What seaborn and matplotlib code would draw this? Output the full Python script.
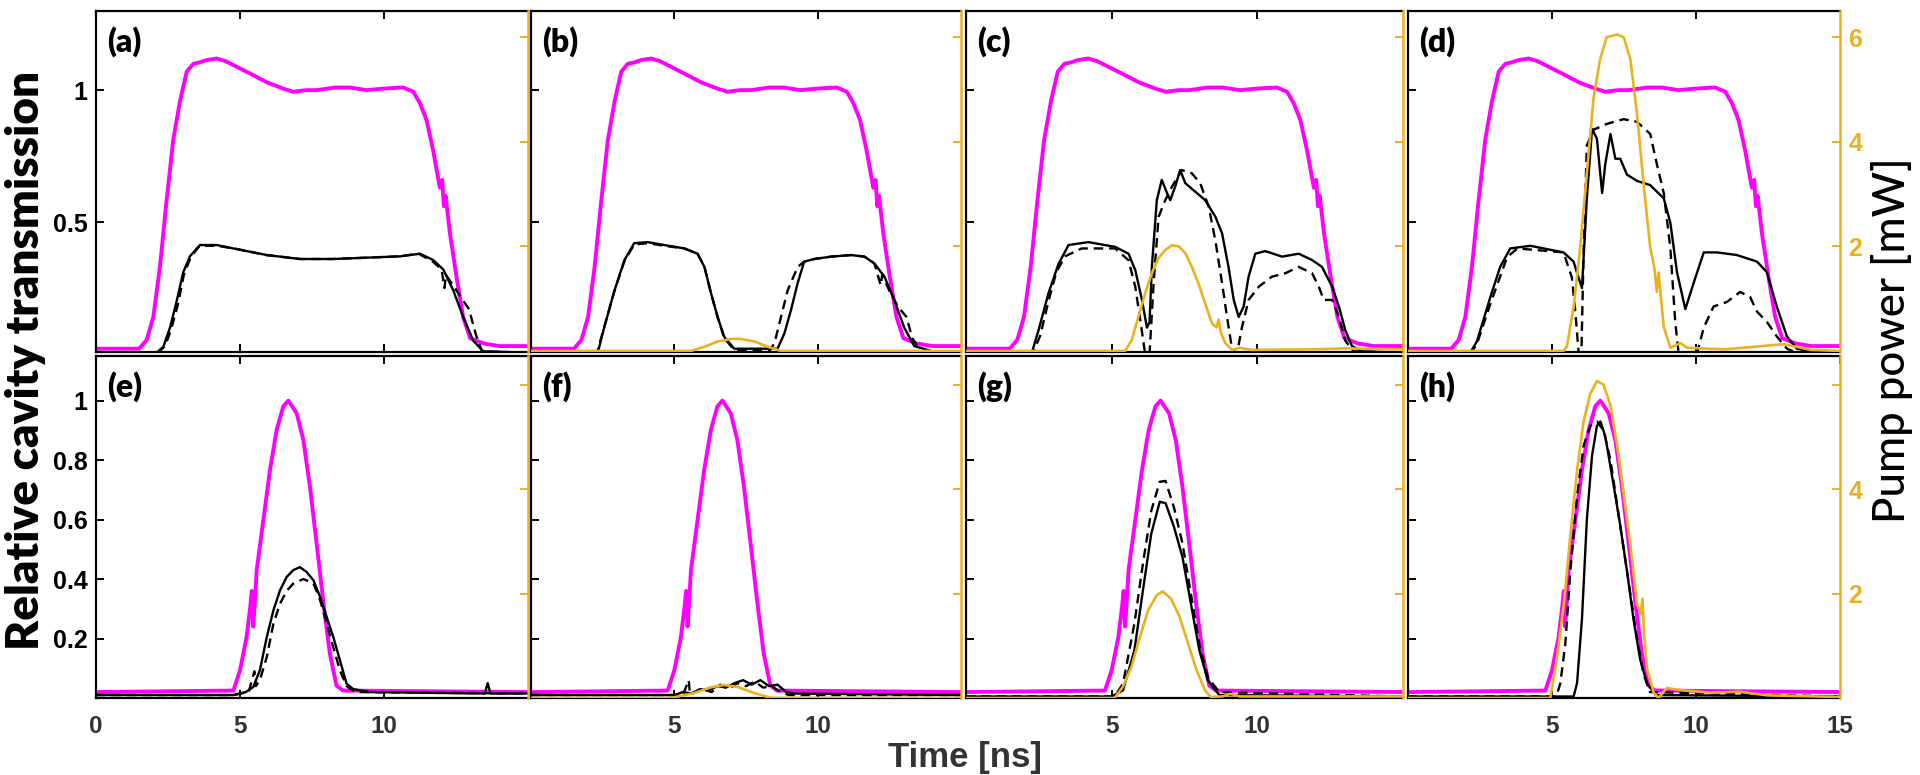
import matplotlib
matplotlib.use("Agg")
import matplotlib.pyplot as plt
import seaborn as sns

# ---------------- data ----------------
# input pulse (magenta), same trace in panels a-d
mag_top_t = [0, 1.5, 1.76, 1.99, 2.22, 2.45, 2.68, 2.92, 3.15, 3.38, 3.6, 3.84, 4.19, 4.5,
             4.77, 5.35, 5.93, 6.5, 6.85, 7.3, 7.66, 8.3, 8.82, 9.4, 9.98, 10.67, 11.02, 11.25,
             11.48, 11.71, 11.94, 12.02, 12.08, 12.14, 12.29, 12.52, 12.75, 12.99, 13.45, 14.0, 15.0]
mag_top_v = [0.02, 0.02, 0.053, 0.14, 0.33, 0.58, 0.81, 0.96, 1.07, 1.10, 1.105, 1.114, 1.12, 1.11,
             1.095, 1.063, 1.03, 1.006, 0.994, 1.0, 1.0, 1.01, 1.01, 1.0, 1.006, 1.01, 0.994, 0.95,
             0.886, 0.77, 0.63, 0.66, 0.56, 0.6, 0.457, 0.29, 0.14, 0.06, 0.04, 0.03, 0.03]

# input pulse (magenta), same trace in panels e-h
mag_bot_t = [0, 4.77, 5.0, 5.23, 5.36, 5.41, 5.46, 5.52, 5.58, 5.81, 6.04, 6.27, 6.5, 6.68, 6.97,
             7.2, 7.43, 7.66, 7.9, 8.12, 8.35, 8.58, 15]
mag_bot_v = [0.02, 0.025, 0.093, 0.205, 0.31, 0.36, 0.24, 0.33, 0.43, 0.598, 0.766, 0.90, 0.98,
             1.0, 0.957, 0.867, 0.71, 0.52, 0.317, 0.149, 0.042, 0.025, 0.02]

# (a)
a_sol_t = [0, 2.11, 2.34, 2.57, 2.80, 3.03, 3.26, 3.61, 4.19, 4.77, 5.93, 7.08, 8.24, 9.39, 10.55,
           11.25, 11.71, 12.06, 12.41, 12.75, 13.1, 13.45, 15]
a_sol_v = [0.005, 0.005, 0.028, 0.10, 0.20, 0.31, 0.37, 0.413, 0.413, 0.40, 0.375, 0.36, 0.36,
           0.365, 0.37, 0.38, 0.356, 0.32, 0.24, 0.14, 0.05, 0.01, 0.005]
a_dash_t = [0, 2.15, 2.4, 2.6, 2.85, 3.05, 3.3, 3.6, 4.2, 4.8, 5.9, 7.1, 8.2, 9.4, 10.5, 11.2,
            11.7, 12.0, 12.1, 12.15, 12.4, 12.7, 12.95, 13.2, 13.4, 15]
a_dash_v = [0.005, 0.005, 0.03, 0.09, 0.19, 0.30, 0.37, 0.41, 0.41, 0.40, 0.375, 0.36, 0.36,
            0.365, 0.37, 0.38, 0.35, 0.32, 0.25, 0.30, 0.26, 0.21, 0.17, 0.07, 0.01, 0.005]

# (b)
b_sol_t = [0, 2.33, 2.56, 2.91, 3.26, 3.6, 4.07, 4.65, 5.35, 5.81, 6.05, 6.28, 6.51, 6.74, 7.09,
           8.6, 8.84, 9.07, 9.3, 9.53, 9.88, 10.47, 11.16, 11.63, 11.98, 12.33, 12.67, 13.02,
           13.37, 14, 15]
b_sol_v = [0.005, 0.005, 0.103, 0.24, 0.356, 0.42, 0.424, 0.413, 0.40, 0.38, 0.33, 0.23, 0.14,
           0.065, 0.02, 0.02, 0.078, 0.167, 0.268, 0.35, 0.36, 0.369, 0.375, 0.369, 0.343, 0.293,
           0.205, 0.10, 0.03, 0.01, 0.005]
b_dash_t = [0, 2.3, 2.55, 2.9, 3.25, 3.6, 4.07, 4.65, 5.35, 5.81, 6.05, 6.28, 6.51, 6.74, 7.09,
            8.3, 8.49, 8.72, 8.95, 9.3, 9.53, 9.88, 10.47, 11.16, 11.63, 11.98, 12.2, 12.25,
            12.5, 12.8, 13.1, 13.3, 13.6, 15]
b_dash_v = [0.005, 0.005, 0.10, 0.235, 0.35, 0.415, 0.42, 0.41, 0.40, 0.38, 0.33, 0.23, 0.14,
            0.06, 0.015, 0.01, 0.04, 0.14, 0.24, 0.33, 0.35, 0.36, 0.369, 0.375, 0.369, 0.343,
            0.26, 0.30, 0.24, 0.18, 0.14, 0.06, 0.01, 0.005]
b_pump_t = [0, 5.58, 6.05, 6.51, 6.98, 7.33, 7.8, 8.26, 8.72, 15]
b_pump_p = [0, 0, 0.08, 0.18, 0.23, 0.23, 0.18, 0.08, 0, 0]

# (c)
c_sol_t = [0, 2.26, 2.49, 2.83, 3.17, 3.52, 4.2, 5.12, 5.58, 5.81, 6.04, 6.21, 6.3, 6.38, 6.55,
           6.72, 6.9, 7.01, 7.18, 7.35, 7.53, 7.87, 8.21, 8.56, 8.79, 9.01, 9.19, 9.36, 9.53,
           9.7, 9.93, 10.27, 10.85, 11.42, 11.88, 12.22, 12.57, 12.8, 13.02, 13.25, 13.6, 15]
c_sol_v = [0.005, 0.005, 0.09, 0.23, 0.34, 0.413, 0.424, 0.406, 0.38, 0.318, 0.205, 0.10, 0.12,
           0.33, 0.583, 0.66, 0.61, 0.583, 0.634, 0.697, 0.647, 0.615, 0.583, 0.52, 0.457, 0.33,
           0.205, 0.14, 0.18, 0.293, 0.38, 0.39, 0.369, 0.38, 0.356, 0.33, 0.255, 0.18, 0.09,
           0.03, 0.01, 0.005]
c_dash_t = [0, 2.3, 2.55, 2.83, 3.1, 3.4, 3.97, 5.12, 5.58, 5.81, 5.98, 6.15, 6.3, 6.44, 6.61,
            6.84, 7.07, 7.41, 7.75, 8.04, 8.33, 8.56, 8.79, 8.96, 9.13, 9.3, 9.47, 9.7, 10.05,
            10.5, 10.96, 11.42, 11.88, 12.11, 12.28, 12.57, 12.8, 13.02, 13.3, 15]
c_dash_v = [0.005, 0.005, 0.07, 0.20, 0.31, 0.37, 0.40, 0.40, 0.355, 0.255, 0.13, 0.0, 0.0,
            0.268, 0.52, 0.583, 0.634, 0.697, 0.685, 0.647, 0.558, 0.43, 0.268, 0.14, 0.02, 0.0,
            0.10, 0.205, 0.255, 0.293, 0.306, 0.33, 0.306, 0.255, 0.205, 0.205, 0.14, 0.05, 0.01,
            0.005]
c_pump_t = [0, 5.46, 5.69, 5.92, 6.15, 6.38, 6.61, 6.84, 7.07, 7.3, 7.53, 7.75, 7.98, 8.21, 8.44,
            8.6, 8.67, 8.75, 8.9, 9.13, 9.4, 9.8, 12, 13, 15]
c_pump_p = [0, 0, 0.21, 0.66, 1.1, 1.49, 1.78, 1.93, 2.02, 2.0, 1.87, 1.61, 1.29, 0.91, 0.53,
            0.45, 0.6, 0.35, 0.15, 0.02, 0.06, 0.02, 0.03, 0.05, 0.03]

# (d)
d_sol_t = [0, 2.16, 2.39, 2.86, 3.2, 3.55, 4.25, 5.4, 5.75, 5.92, 6.04, 6.21, 6.39, 6.56, 6.74,
           6.85, 7.03, 7.2, 7.37, 7.6, 7.95, 8.41, 8.88, 9.11, 9.34, 9.63, 9.92, 10.27, 10.73,
           11.42, 12.12, 12.46, 12.81, 13.16, 13.5, 14, 15]
d_sol_v = [0.005, 0.005, 0.047, 0.216, 0.33, 0.40, 0.41, 0.385, 0.35, 0.29, 0.25, 0.59, 0.853,
           0.816, 0.61, 0.72, 0.834, 0.74, 0.74, 0.68, 0.656, 0.64, 0.59, 0.497, 0.31, 0.17,
           0.27, 0.385, 0.385, 0.375, 0.35, 0.31, 0.178, 0.066, 0.02, 0.01, 0.005]
d_dash_t = [0, 2.2, 2.4, 2.86, 3.44, 3.8, 5.4, 5.69, 5.81, 5.92, 6.02, 6.1, 6.21, 6.44, 6.9,
            7.49, 7.95, 8.41, 8.64, 8.88, 9.11, 9.28, 9.4, 10.03, 10.27, 10.61, 11.07, 11.53,
            11.88, 12.12, 12.46, 12.81, 13.16, 13.5, 15]
d_dash_v = [0.005, 0.005, 0.04, 0.19, 0.367, 0.40, 0.385, 0.29, 0.16, 0.01, 0.0, 0.4, 0.79,
            0.85, 0.872, 0.89, 0.88, 0.834, 0.72, 0.61, 0.40, 0.12, 0.0, 0.0, 0.10, 0.18, 0.197,
            0.235, 0.216, 0.16, 0.122, 0.066, 0.02, 0.005, 0.005]
d_pump_t = [0, 5.4, 5.52, 5.75, 5.98, 6.21, 6.44, 6.67, 6.9, 7.26, 7.49, 7.72, 7.95, 8.18, 8.41,
            8.55, 8.64, 8.7, 8.88, 9.11, 9.46, 9.7, 11, 13.04, 14, 15]
d_pump_p = [0, 0, 0.09, 0.84, 1.98, 3.4, 4.82, 5.58, 6.0, 6.05, 6.0, 5.58, 4.54, 3.2, 1.98, 1.6,
            1.13, 1.5, 0.46, 0.06, 0.15, 0.06, 0.03, 0.13, 0.02, 0.0]

# (e)
e_sol_t = [0, 4.77, 5.2, 5.46, 5.69, 5.93, 6.16, 6.39, 6.62, 6.85, 7.08, 7.31, 7.55, 7.78, 8.01,
           8.24, 8.47, 8.7, 8.93, 9.5, 13.5, 13.6, 13.7, 15]
e_sol_v = [0.01, 0.01, 0.02, 0.037, 0.093, 0.205, 0.295, 0.362, 0.407, 0.43, 0.44, 0.424, 0.396,
           0.34, 0.272, 0.205, 0.127, 0.048, 0.03, 0.02, 0.015, 0.05, 0.015, 0.015]
e_dash_t = [0, 4.77, 5.3, 5.5, 5.55, 5.69, 5.93, 6.16, 6.39, 6.62, 6.85, 7.2, 7.55, 7.78, 8.01,
            8.24, 8.47, 8.7, 9.0, 15]
e_dash_v = [0.01, 0.01, 0.02, 0.09, 0.04, 0.06, 0.138, 0.25, 0.317, 0.36, 0.385, 0.40, 0.385,
            0.33, 0.25, 0.17, 0.093, 0.04, 0.02, 0.015]

# (f)
f_sol_t = [0, 5.0, 5.3, 5.6, 5.9, 6.2, 6.5, 6.8, 7.1, 7.4, 7.7, 8.0, 8.3, 8.6, 8.9, 9.2, 15]
f_sol_v = [0.01, 0.01, 0.02, 0.015, 0.03, 0.025, 0.04, 0.035, 0.05, 0.06, 0.045, 0.06, 0.04,
           0.045, 0.02, 0.015, 0.01]
f_dash_t = [0, 5.3, 5.5, 5.55, 5.7, 6.0, 6.3, 6.6, 6.9, 7.2, 7.5, 7.8, 8.1, 8.4, 8.7, 9.0, 15]
f_dash_v = [0.01, 0.01, 0.06, 0.01, 0.02, 0.03, 0.02, 0.045, 0.03, 0.05, 0.04, 0.055, 0.035,
            0.04, 0.02, 0.01, 0.01]
f_pump_t = [0, 4.87, 5.66, 6.24, 6.73, 7.22, 7.81, 8.39, 15]
f_pump_p = [0, 0, 0.09, 0.2, 0.25, 0.21, 0.09, 0.0, 0.0]

# (g)
g_sol_t = [0, 5.0, 5.39, 5.78, 6.07, 6.36, 6.65, 6.85, 7.14, 7.43, 7.72, 8.01, 8.3, 8.69, 15]
g_sol_v = [0.005, 0.005, 0.026, 0.16, 0.36, 0.553, 0.66, 0.655, 0.575, 0.474, 0.317, 0.16, 0.06,
           0.01, 0.005]
g_dash_t = [0, 5.1, 5.39, 5.78, 6.07, 6.36, 6.65, 6.85, 7.14, 7.43, 7.72, 8.01, 8.3, 8.69, 15]
g_dash_v = [0.005, 0.005, 0.048, 0.25, 0.45, 0.63, 0.727, 0.73, 0.64, 0.52, 0.35, 0.18, 0.07,
            0.02, 0.005]
g_pump_t = [0, 5.1, 5.39, 5.68, 5.97, 6.26, 6.55, 6.75, 7.04, 7.33, 7.62, 7.91, 8.2, 8.4, 8.8,
            9.07, 9.4, 15]
g_pump_p = [0, 0, 0.22, 0.6, 1.17, 1.69, 1.97, 2.04, 1.9, 1.56, 1.05, 0.54, 0.15, 0.02, 0.03,
            0.08, 0.03, 0.03]

# (h)
h_sol_t = [0, 5.75, 5.87, 6.04, 6.21, 6.39, 6.56, 6.68, 6.85, 7.14, 7.37, 7.6, 7.83, 8.06, 8.3,
           8.6, 15]
h_sol_v = [0.005, 0.005, 0.05, 0.265, 0.60, 0.815, 0.915, 0.93, 0.88, 0.715, 0.58, 0.43, 0.265,
           0.13, 0.05, 0.01, 0.005]
h_dash_t = [0, 5.15, 5.29, 5.46, 5.64, 5.87, 6.1, 6.33, 6.56, 6.79, 7.03, 7.26, 7.49, 7.72, 7.95,
            8.18, 8.4, 15]
h_dash_v = [0.005, 0.005, 0.05, 0.18, 0.43, 0.68, 0.85, 0.915, 0.93, 0.90, 0.80, 0.65, 0.50,
            0.35, 0.20, 0.08, 0.02, 0.005]
h_pump_t = [0, 4.94, 5.17, 5.41, 5.64, 5.87, 6.1, 6.33, 6.56, 6.79, 7.03, 7.26, 7.49, 7.72, 7.95,
            8.08, 8.14, 8.2, 8.3, 8.53, 8.7, 8.99, 9.5, 10.5, 11.5, 12.5, 15]
h_pump_p = [0, 0, 0.76, 1.8, 3.13, 4.36, 5.31, 5.83, 6.07, 6.0, 5.6, 4.84, 3.89, 2.94, 1.8, 1.6,
            1.9, 1.2, 0.57, 0.1, 0.0, 0.19, 0.15, 0.1, 0.12, 0.05, 0.02]

panel_labels = ["(a)", "(b)", "(c)", "(d)", "(e)", "(f)", "(g)", "(h)"]
top_yticks = [0.5, 1]
top_yticklabels = ["0.5", "1"]
bot_yticks = [0.2, 0.4, 0.6, 0.8, 1]
bot_yticklabels = ["0.2", "0.4", "0.6", "0.8", "1"]
pump_ticks = [2, 4, 6]
bot_xticks = [[0, 5, 10], [5, 10], [5, 10], [5, 10, 15]]

# ---------------- style ----------------
sns.set_theme(style="white")
plt.rcParams["font.family"] = ["Liberation Sans", "DejaVu Sans"]
plt.rcParams["font.weight"] = "bold"
plt.rcParams["text.color"] = "black"

MAGENTA = "#FF00FF"
ORANGE = "#EDB120"
GRAY = "#333333"

panels = [
    (mag_top_t, mag_top_v, a_sol_t, a_sol_v, a_dash_t, a_dash_v, None, None),
    (mag_top_t, mag_top_v, b_sol_t, b_sol_v, b_dash_t, b_dash_v, b_pump_t, b_pump_p),
    (mag_top_t, mag_top_v, c_sol_t, c_sol_v, c_dash_t, c_dash_v, c_pump_t, c_pump_p),
    (mag_top_t, mag_top_v, d_sol_t, d_sol_v, d_dash_t, d_dash_v, d_pump_t, d_pump_p),
    (mag_bot_t, mag_bot_v, e_sol_t, e_sol_v, e_dash_t, e_dash_v, None, None),
    (mag_bot_t, mag_bot_v, f_sol_t, f_sol_v, f_dash_t, f_dash_v, f_pump_t, f_pump_p),
    (mag_bot_t, mag_bot_v, g_sol_t, g_sol_v, g_dash_t, g_dash_v, g_pump_t, g_pump_p),
    (mag_bot_t, mag_bot_v, h_sol_t, h_sol_v, h_dash_t, h_dash_v, h_pump_t, h_pump_p),
]

W, H = 1920, 775
cols_px = [(96, 528), (531, 961), (966, 1403), (1408, 1840)]
rows_px = [(11, 352), (356, 698)]


def line(ax, x, y, **kw):
    sns.lineplot(x=x, y=y, ax=ax, estimator=None, sort=False, legend=False, **kw)


fig = plt.figure(figsize=(W / 100, H / 100), dpi=100)

for i, (mt, mv, st, sv, dt, dv, pt, pp) in enumerate(panels):
    row, col = divmod(i, 4)
    x0, x1 = cols_px[col]
    y0, y1 = rows_px[row]
    ax = fig.add_axes([x0 / W, 1 - y1 / H, (x1 - x0) / W, (y1 - y0) / H])
    ax2 = ax.twinx()

    line(ax, mt, mv, color=MAGENTA, lw=2.8)
    line(ax, st, sv, color="black", lw=1.7)
    line(ax, dt, dv, color="black", lw=1.7, linestyle=(0, (4, 2.5)))
    if pt is not None:
        line(ax2, pt, pp, color=ORANGE, lw=1.9)

    ax.set_xlim(0, 15)
    ax2.set_xlim(0, 15)
    if row == 0:
        ax.set_ylim(0.0075, 1.3)
        ax2.set_ylim(-0.02, 6.5)
        ax.set_yticks(top_yticks)
        ax.set_yticklabels(top_yticklabels)
        ax.set_xticks([5, 10])
    else:
        ax.set_ylim(0, 1.15)
        ax2.set_ylim(0, 6.55)
        ax.set_yticks(bot_yticks)
        ax.set_yticklabels(bot_yticklabels)
        ax.set_xticks(bot_xticks[col])
    ax2.set_yticks(pump_ticks)
    if i == 7:
        ax2.set_yticklabels(["2", "4", ""])
    else:
        ax2.set_yticklabels(["2", "4", "6"])
    ax.set_xlabel("")
    ax.set_ylabel("")
    ax2.set_ylabel("")

    for s in ["left", "top", "bottom"]:
        ax.spines[s].set_color("black")
        ax.spines[s].set_linewidth(1.6)
        ax2.spines[s].set_visible(False)
    ax.spines["right"].set_visible(False)
    ax2.spines["right"].set_color(ORANGE)
    ax2.spines["right"].set_linewidth(1.8)

    ax.tick_params(axis="both", direction="in", length=6, width=1.4, color="black")
    ax.tick_params(axis="x", top=True, bottom=True, labelbottom=(row == 1), pad=12,
                   labelcolor=GRAY, labelsize=17.5)
    ax.tick_params(axis="y", left=True, right=False, labelleft=(col == 0), pad=6,
                   labelcolor="black", labelsize=18)
    ax2.tick_params(axis="y", direction="in", length=6, width=1.4, color=ORANGE,
                    labelcolor=ORANGE, labelsize=18, labelright=(col == 3), pad=6)

    ax.text(0.026, 0.955, panel_labels[i], transform=ax.transAxes, ha="left", va="top",
            fontsize=23, fontweight="heavy", color="black", family=["Lato", "DejaVu Sans"])

fig.text(26 / W, 1 - 360 / H, "Relative cavity transmission", rotation=90, ha="center",
         va="center", fontsize=33, fontweight="heavy", color="black",
         family=["Lato", "DejaVu Sans"])
fig.text(1892 / W, 1 - 340 / H, "Pump power [mW]", rotation=90, ha="center", va="center",
         fontsize=31.5, fontweight="medium", color="black", family=["Lato", "DejaVu Sans"])
fig.text(965 / W, 1 - 758 / H, "Time [ns]", ha="center", va="center", fontsize=25,
         fontweight="bold", color=GRAY)

fig.savefig("out.png", dpi=100)
